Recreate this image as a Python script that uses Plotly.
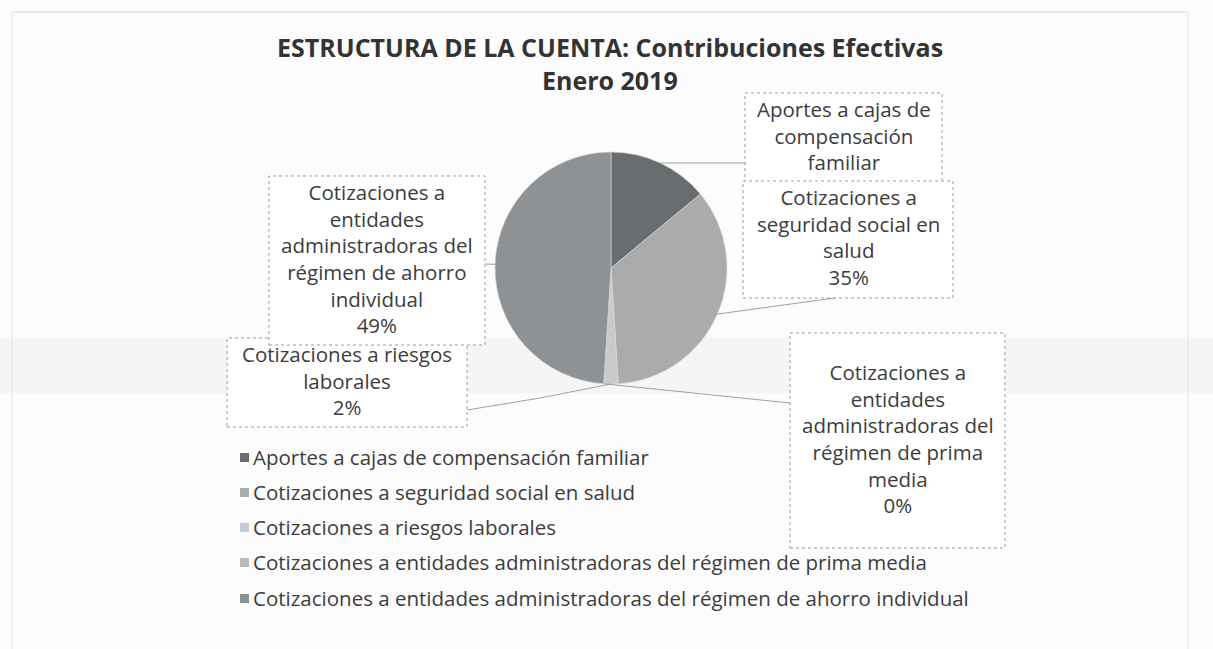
import math
import plotly.graph_objects as go

# Data: estructura de la cuenta, contribuciones efectivas (enero 2019)
categorias = [
    "Aportes a cajas de compensación familiar",
    "Cotizaciones a seguridad social en salud",
    "Cotizaciones a riesgos laborales",
    "Cotizaciones a entidades administradoras del régimen de prima media",
    "Cotizaciones a entidades administradoras del régimen de ahorro individual",
]
porcentajes = [14, 35, 2, 0, 49]

# Text shown inside each callout (wrapped the way the callouts display it)
textos_callout = [
    ["Aportes a cajas de", "compensación", "familiar"],
    ["Cotizaciones a", "seguridad social en", "salud"],
    ["Cotizaciones a riesgos", "laborales"],
    ["Cotizaciones a", "entidades", "administradoras del", "régimen de prima", "media"],
    ["Cotizaciones a", "entidades", "administradoras del", "régimen de ahorro", "individual"],
]
mostrar_pct = [False, True, True, True, True]

colores = ["#6a6d70", "#a9abad", "#c9cacb", "#b9babb", "#8f9295"]

W, H = 1213, 649
TXT = "#3c3c3c"
FONT = "Open Sans"


def px(x):
    return x / W


def py(y):
    return 1 - y / H


# Pie geometry (pixels)
cx, cy, r = 611, 268, 116

fig = go.Figure()
fig.add_trace(go.Pie(
    labels=categorias,
    values=porcentajes,
    sort=False,
    direction="clockwise",
    rotation=0,
    marker=dict(colors=colores, line=dict(color="#d8d8d8", width=0.6)),
    textinfo="none",
    hoverinfo="label+percent",
    domain=dict(x=[px(cx - r), px(cx + r)], y=[py(cy + r), py(cy - r)]),
    showlegend=False,
))

shapes = []
annotations = []

# faint page details behind the chart
shapes.append(dict(type="rect", xref="paper", yref="paper", layer="below",
                   x0=0, x1=1, y0=py(393), y1=py(337),
                   fillcolor="#f5f5f5", line=dict(width=0)))
for xl in (12, 1188):
    shapes.append(dict(type="line", xref="paper", yref="paper", layer="below",
                       x0=px(xl), x1=px(xl), y0=0, y1=py(12),
                       line=dict(color="#e0e0e0", width=1)))
shapes.append(dict(type="line", xref="paper", yref="paper", layer="below",
                   x0=px(12), x1=px(1188), y0=py(12), y1=py(12),
                   line=dict(color="#d9d9d9", width=1)))

# Callout boxes (pixels: x0, y0, x1, y1) and where the leader meets each box
cajas = [
    (745, 93, 942, 182),
    (743, 181, 953, 298),
    (227, 338, 467, 427),
    (790, 333, 1005, 548),
    (269, 176, 485, 345),
]
puntos_caja = [
    [(745, 163)],
    [(835, 298)],
    [(540, 398), (467, 410)],
    [(790, 403)],
    [(485, 264)],
]

total = sum(porcentajes)
acum = 0
for i, v in enumerate(porcentajes):
    medio = (acum + v / 2) / total * 2 * math.pi
    acum += v
    ex = cx + r * math.sin(medio)
    ey = cy - r * math.cos(medio)
    pts = [(ex, ey)] + puntos_caja[i]
    for (xa, ya), (xb, yb) in zip(pts[:-1], pts[1:]):
        shapes.append(dict(type="line", xref="paper", yref="paper",
                           x0=px(xa), y0=py(ya), x1=px(xb), y1=py(yb),
                           line=dict(color="#a0a0a0", width=1)))

for i, (x0, y0, x1, y1) in enumerate(cajas):
    shapes.append(dict(type="rect", xref="paper", yref="paper",
                       x0=px(x0), x1=px(x1), y0=py(y1), y1=py(y0),
                       fillcolor="white",
                       line=dict(color="#9c9c9c", width=1, dash="dot")))

for i, (x0, y0, x1, y1) in enumerate(cajas):
    lineas = list(textos_callout[i])
    if mostrar_pct[i]:
        lineas.append(f"{porcentajes[i]}%")
    annotations.append(dict(
        xref="paper", yref="paper",
        x=px((x0 + x1) / 2), y=py((y0 + y1) / 2 - 2),
        xanchor="center", yanchor="middle",
        text="<br>".join(lineas), showarrow=False, align="center",
        font=dict(family=FONT, size=20.5, color=TXT),
    ))

# Title
for texto, yy in (("ESTRUCTURA DE LA CUENTA: Contribuciones Efectivas", 47),
                  ("Enero 2019", 80)):
    annotations.append(dict(
        xref="paper", yref="paper", x=px(610), y=py(yy),
        xanchor="center", yanchor="middle", showarrow=False,
        text=texto,
        font=dict(family=FONT, size=25, color="#333333", weight="bold"),
    ))

# Legend: square swatch + label for each category
filas_y = [457, 492, 527, 562, 598]
for nombre, color, yy in zip(categorias, colores, filas_y):
    shapes.append(dict(type="rect", xref="paper", yref="paper",
                       x0=px(240), x1=px(249), y0=py(yy + 5), y1=py(yy - 4),
                       fillcolor=color, line=dict(width=0)))
    annotations.append(dict(
        xref="paper", yref="paper", x=px(251), y=py(yy),
        xanchor="left", yanchor="middle", showarrow=False,
        text=nombre, font=dict(family=FONT, size=20.5, color=TXT),
    ))

fig.update_layout(
    width=W, height=H,
    margin=dict(l=0, r=0, t=0, b=0),
    paper_bgcolor="#fcfcfc",
    plot_bgcolor="#fcfcfc",
    shapes=shapes,
    annotations=annotations,
    showlegend=False,
)

fig.write_html("out.html")
